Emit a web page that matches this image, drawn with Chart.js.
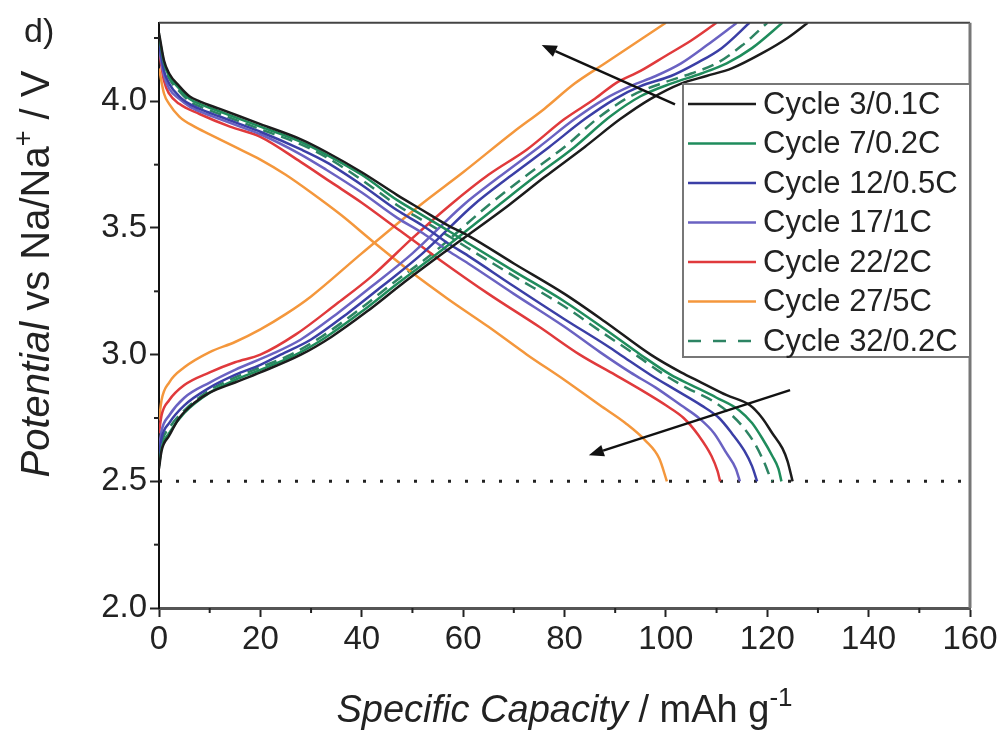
<!DOCTYPE html>
<html>
<head>
<meta charset="utf-8">
<script src="https://cdn.jsdelivr.net/npm/chart.js@4.4.1/dist/chart.umd.min.js"></script>
<style>
  html, body { margin: 0; padding: 0; background: #fff; }
  #wrap { width: 1004px; height: 733px; }
</style>
</head>
<body>
<div id="wrap"><canvas id="mainChart" width="1004" height="733"></canvas></div>
<script>
// ---------------- Data (capacity mAh/g, potential V) ----------------
const cycleLabels = ['Cycle 3/0.1C', 'Cycle 7/0.2C', 'Cycle 12/0.5C', 'Cycle 17/1C', 'Cycle 22/2C', 'Cycle 27/5C', 'Cycle 32/0.2C'];
const cycleColors = ['#1c1c1c', '#1f8c5c', '#3b3fa6', '#6a62c2', '#e03a3c', '#f4973c', '#2d8463'];
const cycleDashed = [false, false, false, false, false, false, true];

const dis3 = [[0,4.27],[1,4.16],[2,4.11],[4,4.06],[6,4.02],[8,4.00],[12,3.97],[16,3.94],[20,3.91],[28,3.85],[33,3.80],[40,3.72],[47,3.63],[52,3.57],[57,3.51],[61,3.47],[70,3.36],[80,3.24],[88,3.13],[97,3.00],[103,2.93],[107,2.89],[112,2.84],[116.6,2.80],[119,2.75],[121,2.69],[123,2.63],[124,2.58],[125,2.50]];
const chg3 = [[0,2.55],[0.5,2.62],[2,2.68],[4,2.75],[7,2.81],[10,2.85],[15,2.89],[20,2.93],[28,3.00],[34,3.07],[41,3.17],[48,3.28],[56,3.40],[69,3.59],[76,3.70],[84,3.82],[91,3.93],[97,4.01],[103,4.07],[108,4.10],[113,4.13],[119,4.19],[124,4.25],[128,4.31]];

const dis7 = [[0,4.26],[1,4.15],[2,4.10],[4,4.05],[6,4.01],[8,3.99],[12,3.96],[16,3.93],[20,3.90],[28,3.84],[33,3.79],[40,3.71],[47,3.61],[52,3.55],[57,3.49],[61,3.44],[70,3.33],[80,3.21],[88,3.10],[95,3.00],[101,2.92],[105,2.88],[110,2.83],[114.5,2.78],[117,2.73],[119,2.67],[121,2.60],[122.2,2.55],[122.8,2.50]];
const chg7 = [[0,2.56],[0.5,2.63],[2,2.69],[5,2.77],[10,2.85],[15,2.90],[20,2.94],[27,3.00],[33,3.07],[40,3.17],[47,3.28],[55,3.40],[67,3.59],[74,3.70],[82,3.82],[89,3.94],[95,4.02],[101,4.07],[107,4.11],[112,4.15],[117,4.21],[123,4.31]];

const dis12 = [[0,4.23],[1,4.12],[2,4.07],[4,4.02],[6,3.99],[8,3.97],[12,3.94],[16,3.91],[20,3.88],[28,3.81],[33,3.76],[40,3.67],[47,3.57],[52,3.51],[57,3.44],[61,3.39],[70,3.27],[80,3.14],[88,3.04],[91,3.00],[97,2.92],[102,2.86],[107,2.80],[110.5,2.75],[113,2.69],[115.5,2.62],[117,2.56],[118,2.50]];
const chg12 = [[0,2.60],[0.5,2.67],[2,2.73],[5,2.80],[10,2.87],[15,2.92],[20,2.96],[24,3.00],[30,3.06],[37,3.16],[44,3.27],[52,3.40],[62,3.59],[69,3.70],[77,3.82],[84,3.93],[90,4.01],[95,4.06],[101,4.10],[106,4.15],[111,4.21],[116.5,4.31]];

const dis17 = [[0,4.21],[1,4.10],[2,4.05],[4,4.01],[6,3.98],[8,3.96],[12,3.93],[16,3.90],[20,3.87],[28,3.79],[33,3.73],[40,3.64],[47,3.54],[52,3.48],[57,3.41],[61,3.36],[70,3.24],[80,3.11],[87,3.01],[93,2.93],[98,2.87],[103,2.80],[106.5,2.75],[109.5,2.69],[112,2.61],[113.8,2.55],[114.6,2.50]];
const chg17 = [[0,2.63],[0.5,2.70],[2,2.76],[5,2.83],[10,2.89],[15,2.94],[22,3.00],[28,3.06],[35,3.16],[42,3.27],[50,3.40],[60,3.59],[67,3.70],[75,3.82],[82,3.93],[88,4.01],[93,4.06],[98,4.10],[103,4.15],[108,4.22],[114,4.31]];

const dis22 = [[0,4.20],[1,4.08],[2,4.03],[4,3.99],[8,3.95],[14,3.90],[20,3.86],[28,3.76],[34,3.68],[40,3.60],[47.5,3.49],[55,3.38],[65,3.24],[75,3.11],[83,3.00],[90,2.92],[96,2.85],[100,2.80],[103.5,2.75],[106.5,2.68],[109,2.60],[110.2,2.54],[110.7,2.50]];
const chg22 = [[0,2.69],[0.5,2.76],[2,2.82],[5,2.88],[10,2.93],[15,2.97],[20,3.00],[27,3.08],[35,3.20],[42,3.31],[50,3.46],[57.4,3.59],[65,3.71],[72.6,3.81],[80,3.93],[86,4.01],[90,4.07],[95,4.12],[100,4.18],[105,4.24],[110,4.31]];

const dis27 = [[0,4.13],[1,4.03],[2,3.99],[4,3.94],[7,3.90],[10,3.87],[15,3.82],[20,3.77],[25,3.71],[30,3.64],[36,3.55],[42,3.45],[49.5,3.33],[57,3.22],[65,3.11],[72.6,3.00],[80,2.90],[87,2.80],[92,2.73],[96,2.66],[98.7,2.59],[100.2,2.50]];
const chg27 = [[0,2.74],[0.5,2.82],[2,2.89],[5,2.95],[10,3.01],[15,3.05],[20,3.10],[25,3.16],[30,3.23],[40,3.40],[51.5,3.59],[60,3.72],[70,3.88],[76,3.97],[82,4.07],[88,4.15],[94,4.23],[100,4.31]];

const dis32 = [[0,4.25],[1,4.14],[2,4.09],[4,4.04],[6,4.00],[8,3.98],[12,3.95],[16,3.92],[20,3.89],[28,3.83],[33,3.78],[40,3.69],[47,3.59],[52,3.53],[57,3.47],[61,3.42],[70,3.31],[80,3.19],[88,3.08],[94,3.00],[99,2.93],[104,2.87],[109,2.82],[112.5,2.77],[115,2.72],[117.5,2.65],[119.5,2.57],[120.5,2.52],[121,2.50]];
const chg32 = [[0,2.58],[0.5,2.65],[2,2.71],[5,2.78],[10,2.86],[15,2.91],[20,2.95],[26,3.00],[32,3.07],[39,3.17],[46,3.28],[54,3.40],[65,3.59],[72,3.70],[80,3.82],[87,3.94],[93,4.02],[99,4.07],[105,4.11],[110,4.15],[115,4.22],[120,4.31]];

const discharges = [dis3, dis7, dis12, dis17, dis22, dis27, dis32];
const charges = [chg3, chg7, chg12, chg17, chg22, chg27, chg32];

// cut-off line and the two trend arrows (data coords: [start], [tip])
const cutoffLine = [[0,2.5],[160,2.5]];
const arrowCharge = [[101.8,3.988],[75.5,4.222]];
const arrowDischarge = [[124.5,2.86],[84.8,2.603]];

// axes
const xMin = 0, xMax = 160, xStep = 10, xLabelEvery = 20;
const yMin = 2.0, yMax = 4.31, yStep = 0.25, yLabelEvery = 0.5;

const FONT = "'Liberation Sans', Arial, sans-serif";


// ---------------- Helpers ----------------
const toXY = arr => arr.map(p => ({ x: p[0], y: p[1] }));
const isMult = (v, m) => Math.abs(v / m - Math.round(v / m)) < 1e-6;

function drawArrow(ctx, x1, y1, x2, y2) {
    const ang = Math.atan2(y2 - y1, x2 - x1);
    const head = 15, half = 6;
    const bx = x2 - head * Math.cos(ang), by = y2 - head * Math.sin(ang);
    ctx.beginPath();
    ctx.moveTo(x1, y1);
    ctx.lineTo(bx, by);
    ctx.stroke();
    ctx.beginPath();
    ctx.moveTo(x2, y2);
    ctx.lineTo(bx + half * Math.sin(ang), by - half * Math.cos(ang));
    ctx.lineTo(bx - half * Math.sin(ang), by + half * Math.cos(ang));
    ctx.closePath();
    ctx.fill();
}

// draws a run of text pieces: {t, italic, sup}
function drawRich(ctx, parts, size, cx, baseY) {
    const pieceFont = p => `${p.italic ? 'italic ' : ''}${p.sup ? Math.round(size * 0.68) : size}px ${FONT}`;
    let total = 0;
    parts.forEach(p => { ctx.font = pieceFont(p); total += ctx.measureText(p.t).width; });
    let x = cx - total / 2;
    ctx.textAlign = 'left';
    ctx.textBaseline = 'alphabetic';
    parts.forEach(p => {
        ctx.font = pieceFont(p);
        ctx.fillText(p.t, x, p.sup ? baseY - size * 0.42 : baseY);
        x += ctx.measureText(p.t).width;
    });
}


// ---------------- Decorations plugin ----------------
const decorPlugin = {
    id: 'decor',
    afterDatasetsDraw(chart) {
        const { ctx, chartArea: a, scales: { x, y } } = chart;
        ctx.save();

        // minor ticks
        ctx.strokeStyle = '#222';
        ctx.lineWidth = 2;
        x.ticks.forEach(t => {
            if (isMult(t.value, xLabelEvery)) return;
            const px = x.getPixelForValue(t.value);
            ctx.beginPath(); ctx.moveTo(px, a.bottom); ctx.lineTo(px, a.bottom + 5); ctx.stroke();
        });
        y.ticks.forEach(t => {
            if (isMult(t.value, yLabelEvery)) return;
            const py = y.getPixelForValue(t.value);
            ctx.beginPath(); ctx.moveTo(a.left, py); ctx.lineTo(a.left - 5, py); ctx.stroke();
        });

        // top and right frame
        ctx.strokeStyle = '#444';
        ctx.lineWidth = 2;
        ctx.beginPath(); ctx.moveTo(a.left, a.top); ctx.lineTo(a.right, a.top); ctx.stroke();
        ctx.strokeStyle = '#777';
        ctx.lineWidth = 3;
        ctx.beginPath(); ctx.moveTo(a.right, a.top); ctx.lineTo(a.right, a.bottom); ctx.stroke();

        // arrows
        ctx.strokeStyle = '#111';
        ctx.fillStyle = '#111';
        ctx.lineWidth = 2.5;
        [arrowCharge, arrowDischarge].forEach(ar => {
            drawArrow(ctx,
                x.getPixelForValue(ar[0][0]), y.getPixelForValue(ar[0][1]),
                x.getPixelForValue(ar[1][0]), y.getPixelForValue(ar[1][1]));
        });

        // legend box
        const lx = 683, ly = 84, lr = a.right, lb = 357;
        ctx.fillStyle = '#fff';
        ctx.fillRect(lx, ly, lr - lx, lb - ly);
        ctx.strokeStyle = '#777';
        ctx.lineWidth = 2;
        ctx.strokeRect(lx, ly, lr - lx, lb - ly);
        ctx.font = `31px ${FONT}`;
        ctx.textBaseline = 'middle';
        ctx.textAlign = 'left';
        cycleLabels.forEach((lab, i) => {
            const ry = 104 + i * 39.5;
            ctx.strokeStyle = cycleColors[i];
            ctx.lineWidth = 2.5;
            ctx.setLineDash(cycleDashed[i] ? [13, 12] : []);
            ctx.beginPath(); ctx.moveTo(688, ry); ctx.lineTo(756, ry); ctx.stroke();
            ctx.setLineDash([]);
            ctx.fillStyle = '#222';
            ctx.fillText(lab, 763, ry + 1);
        });

        ctx.restore();
    },
    afterDraw(chart) {
        const { ctx, chartArea: a } = chart;
        ctx.save();
        ctx.fillStyle = '#222';

        // panel label
        ctx.font = `34px ${FONT}`;
        ctx.textAlign = 'left';
        ctx.textBaseline = 'alphabetic';
        ctx.fillText('d)', 24, 42);

        // x title
        drawRich(ctx, [
            { t: 'Specific Capacity', italic: true },
            { t: ' / mAh g' },
            { t: '-1', sup: true }
        ], 38, (a.left + a.right) / 2, 722);

        // y title
        ctx.translate(49, 274);
        ctx.rotate(-Math.PI / 2);
        drawRich(ctx, [
            { t: 'Potential', italic: true },
            { t: ' vs Na/Na' },
            { t: '+', sup: true },
            { t: ' / V' }
        ], 40, 0, 0);

        ctx.restore();
    }
};


// ---------------- Chart Init ----------------
function buildDatasets() {
    const sets = [];
    cycleLabels.forEach((lab, i) => {
        [discharges[i], charges[i]].forEach(series => {
            sets.push({
                label: lab,
                data: toXY(series),
                borderColor: cycleColors[i],
                borderWidth: 2.5,
                borderDash: cycleDashed[i] ? [12, 7] : [],
                pointRadius: 0,
                fill: false,
                cubicInterpolationMode: 'monotone'
            });
        });
    });
    sets.push({
        label: 'cutoff',
        data: toXY(cutoffLine),
        borderColor: '#222',
        borderWidth: 3,
        borderDash: [3, 14],
        pointRadius: 0,
        fill: false
    });
    return sets;
}

const tickFont = { family: FONT, size: 33 };

const mainChart = new Chart(document.getElementById('mainChart').getContext('2d'), {
    type: 'line',
    data: { datasets: buildDatasets() },
    options: {
        responsive: false,
        animation: false,
        devicePixelRatio: 1,
        layout: { padding: { top: 13, right: 34, left: 0, bottom: 0 } },
        plugins: { legend: { display: false }, tooltip: { enabled: false } },
        scales: {
            x: {
                type: 'linear',
                min: xMin, max: xMax,
                afterFit: s => { s.height = 125; },
                ticks: {
                    stepSize: xStep, autoSkip: false, maxRotation: 0, includeBounds: false,
                    padding: 3, color: '#222', font: tickFont,
                    callback: v => isMult(v, xLabelEvery) ? String(Math.round(v)) : ''
                },
                grid: {
                    drawOnChartArea: false, tickLength: 9, tickWidth: 2,
                    tickColor: c => (c.tick && isMult(c.tick.value, xLabelEvery)) ? '#222' : 'rgba(0,0,0,0)'
                },
                border: { display: true, color: '#555', width: 3 }
            },
            y: {
                type: 'linear',
                min: yMin, max: yMax,
                afterFit: s => { s.width = 159; },
                ticks: {
                    stepSize: yStep, autoSkip: false, includeBounds: false,
                    padding: 3, color: '#222', font: tickFont,
                    callback: v => isMult(v, yLabelEvery) ? v.toFixed(1) : ''
                },
                grid: {
                    drawOnChartArea: false, tickLength: 9, tickWidth: 2,
                    tickColor: c => (c.tick && isMult(c.tick.value, yLabelEvery)) ? '#222' : 'rgba(0,0,0,0)'
                },
                border: { display: true, color: '#111', width: 2 }
            }
        }
    },
    plugins: [decorPlugin]
});
</script>
</body>
</html>
